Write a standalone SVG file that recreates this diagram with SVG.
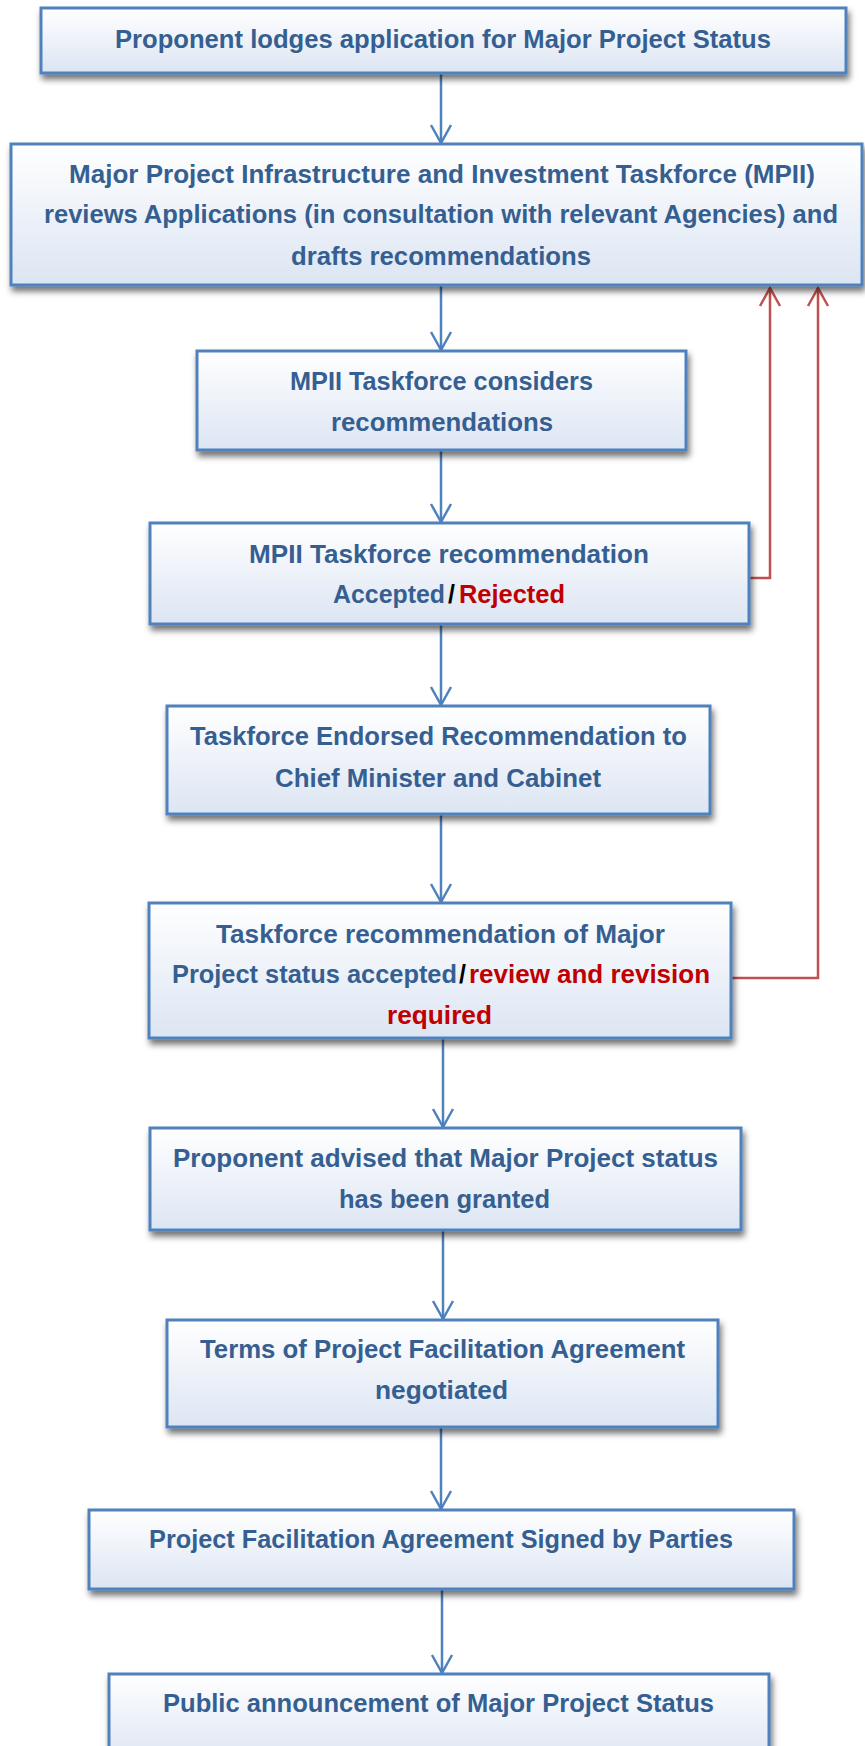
<svg xmlns="http://www.w3.org/2000/svg" width="865" height="1746" viewBox="0 0 865 1746">
<style>
.box{fill:url(#g);stroke:#4F81BD;stroke-width:3;filter:url(#sh)}
.t{font-family:"Liberation Sans",Arial,sans-serif;font-weight:bold;font-size:25px;fill:#365F91}
.r{fill:#C00000}
.k{fill:#000000}
.c{fill:none;stroke:#4F81BD;stroke-width:2.5;marker-end:url(#ab)}
.cr{fill:none;stroke:#C0504D;stroke-width:2.5;marker-end:url(#ar)}
</style>
<defs>
<linearGradient id="g" x1="0" y1="0" x2="0" y2="1">
<stop offset="0" stop-color="#FFFFFF"/>
<stop offset="1" stop-color="#DCE5F3"/>
</linearGradient>
<filter id="sh" x="-5%" y="-10%" width="110%" height="130%">
<feDropShadow dx="2" dy="5" stdDeviation="3" flood-color="#000" flood-opacity="0.55"/>
</filter>
<marker id="ab" markerUnits="userSpaceOnUse" markerWidth="22" markerHeight="24" refX="19" refY="11" orient="auto" overflow="visible">
<path d="M1,1 L19,11 L1,21" fill="none" stroke="#4F81BD" stroke-width="2.5"/>
</marker>
<marker id="ar" markerUnits="userSpaceOnUse" markerWidth="22" markerHeight="24" refX="19" refY="11" orient="auto" overflow="visible">
<path d="M1,1 L19,11 L1,21" fill="none" stroke="#C0504D" stroke-width="2.5"/>
</marker>
</defs>
<rect width="865" height="1746" fill="#FFFFFF"/>
<g id="connectors">
<line class="c" x1="441" y1="73" x2="441" y2="143"/>
<line class="c" x1="441" y1="285" x2="441" y2="350"/>
<line class="c" x1="441" y1="450" x2="441" y2="522"/>
<line class="c" x1="441" y1="624" x2="441" y2="705"/>
<line class="c" x1="441" y1="814" x2="441" y2="902"/>
<line class="c" x1="443" y1="1038" x2="443" y2="1127"/>
<line class="c" x1="443" y1="1230" x2="443" y2="1319"/>
<line class="c" x1="441" y1="1427" x2="441" y2="1509"/>
<line class="c" x1="442" y1="1589" x2="442" y2="1673"/>
<path class="cr" d="M749,578 H770 V288"/>
<path class="cr" d="M731,978 H818 V288"/>
</g>
<g id="n1">
<rect class="box" x="41" y="8" width="805" height="65"/>
<text class="t" x="115" y="48" textLength="656" lengthAdjust="spacingAndGlyphs">Proponent lodges application for Major Project Status</text>
</g>
<g id="n2">
<rect class="box" x="11" y="144" width="851" height="141"/>
<text class="t" x="69" y="183" textLength="746" lengthAdjust="spacingAndGlyphs">Major Project Infrastructure and Investment Taskforce (MPII)</text>
<text class="t" x="44" y="223" textLength="794" lengthAdjust="spacingAndGlyphs">reviews Applications (in consultation with relevant Agencies) and</text>
<text class="t" x="291" y="265" textLength="300" lengthAdjust="spacingAndGlyphs">drafts recommendations</text>
</g>
<g id="n3">
<rect class="box" x="197" y="351" width="489" height="99"/>
<text class="t" x="290" y="390" textLength="303" lengthAdjust="spacingAndGlyphs">MPII Taskforce considers</text>
<text class="t" x="331" y="431" textLength="222" lengthAdjust="spacingAndGlyphs">recommendations</text>
</g>
<g id="n4">
<rect class="box" x="150" y="523" width="599" height="101"/>
<text class="t" x="249" y="563" textLength="400" lengthAdjust="spacingAndGlyphs">MPII Taskforce recommendation</text>
<text class="t" y="603"><tspan x="333" textLength="112" lengthAdjust="spacingAndGlyphs">Accepted</tspan><tspan class="k" x="448">/</tspan><tspan class="r" x="459" textLength="106" lengthAdjust="spacingAndGlyphs">Rejected</tspan></text>
</g>
<g id="n5">
<rect class="box" x="167" y="706" width="543" height="108"/>
<text class="t" x="190" y="745" textLength="497" lengthAdjust="spacingAndGlyphs">Taskforce Endorsed Recommendation to</text>
<text class="t" x="275" y="787" textLength="326" lengthAdjust="spacingAndGlyphs">Chief Minister and Cabinet</text>
</g>
<g id="n6">
<rect class="box" x="149" y="903" width="582" height="135"/>
<text class="t" x="216" y="943" textLength="449" lengthAdjust="spacingAndGlyphs">Taskforce recommendation of Major</text>
<text class="t" y="983"><tspan x="172" textLength="285" lengthAdjust="spacingAndGlyphs">Project status accepted</tspan><tspan class="k" x="459">/</tspan><tspan class="r" x="469" textLength="241" lengthAdjust="spacingAndGlyphs">review and revision</tspan></text>
<text class="t r" x="387" y="1024" textLength="105" lengthAdjust="spacingAndGlyphs">required</text>
</g>
<g id="n7">
<rect class="box" x="150" y="1128" width="591" height="102"/>
<text class="t" x="173" y="1167" textLength="545" lengthAdjust="spacingAndGlyphs">Proponent advised that Major Project status</text>
<text class="t" x="339" y="1208" textLength="211" lengthAdjust="spacingAndGlyphs">has been granted</text>
</g>
<g id="n8">
<rect class="box" x="167" y="1320" width="551" height="107"/>
<text class="t" x="200" y="1358" textLength="485" lengthAdjust="spacingAndGlyphs">Terms of Project Facilitation Agreement</text>
<text class="t" x="375" y="1399" textLength="133" lengthAdjust="spacingAndGlyphs">negotiated</text>
</g>
<g id="n9">
<rect class="box" x="89" y="1510" width="705" height="79"/>
<text class="t" x="149" y="1548" textLength="584" lengthAdjust="spacingAndGlyphs">Project Facilitation Agreement Signed by Parties</text>
</g>
<g id="n10">
<rect class="box" x="109" y="1674" width="660" height="90"/>
<text class="t" x="163" y="1712" textLength="551" lengthAdjust="spacingAndGlyphs">Public announcement of Major Project Status</text>
</g>
</svg>
